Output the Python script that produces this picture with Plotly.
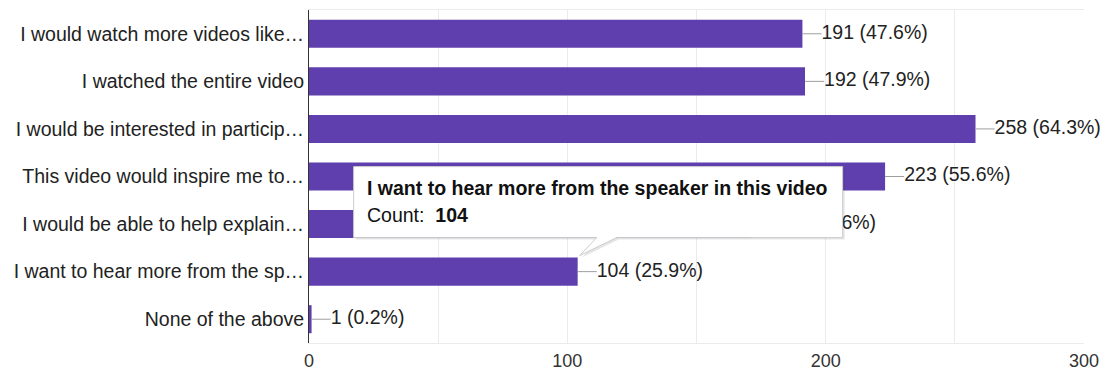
import plotly.graph_objects as go

# Survey responses (multiple choice, checkbox question)
categories = [
    "I would watch more videos like…",
    "I watched the entire video",
    "I would be interested in particip…",
    "This video would inspire me to…",
    "I would be able to help explain…",
    "I want to hear more from the sp…",
    "None of the above",
]
counts = [191, 192, 258, 223, 171, 104, 1]
percents = ["47.6%", "47.9%", "64.3%", "55.6%", "42.6%", "25.9%", "0.2%"]
x_ticks = [0, 100, 200, 300]

# hovered item shown in the tooltip
tooltip_index = 5
tooltip_title = "I want to hear more from the speaker in this video"

BAR_COLOR = "#5f3fae"
TEXT_COLOR = "#222222"
GRID_COLOR = "#ebebeb"
FONT = "Liberation Sans, Arial, sans-serif"
FONT_SIZE = 19.5
BAR_WIDTH = 0.59
LEADER = 7.4  # connector length, in axis units

fig = go.Figure()

fig.add_trace(go.Bar(
    x=counts, y=categories, orientation="h",
    width=BAR_WIDTH, marker=dict(color=BAR_COLOR, line=dict(width=0)),
    hoverinfo="skip",
))

# short grey connectors from the end of each bar to its value label
lx, ly = [], []
for c, v in zip(categories, counts):
    lx += [v, v + LEADER, None]
    ly += [c, c, None]
fig.add_trace(go.Scatter(
    x=lx, y=ly, mode="lines", line=dict(color="#9e9e9e", width=1),
    hoverinfo="skip", cliponaxis=False,
))

fig.add_trace(go.Scatter(
    x=[v + LEADER for v in counts], y=categories, mode="text",
    text=[f"{v} ({p})" for v, p in zip(counts, percents)],
    textposition="middle right",
    textfont=dict(family=FONT, size=FONT_SIZE, color=TEXT_COLOR),
    hoverinfo="skip", cliponaxis=False,
))

# tooltip box with a pointer to the top-right corner of the hovered bar
box_l, box_r, box_t, box_b = -224, 265, 91, 20
tail_a, tail_b, tip = 19, 39, 2
box_path = (f"M {box_l},{box_t} L {box_r},{box_t} L {box_r},{box_b} "
            f"L {tail_b},{box_b} L {tip},{tip} L {tail_a},{box_b} "
            f"L {box_l},{box_b} Z")
shadow_path = (f"M {box_l + 2},{box_t - 2} L {box_r + 2},{box_t - 2} "
               f"L {box_r + 2},{box_b - 2} L {tail_b + 2},{box_b - 2} "
               f"L {tip + 2},{tip - 2} L {tail_a + 2},{box_b - 2} "
               f"L {box_l + 2},{box_b - 2} Z")
anchor_x = counts[tooltip_index]
anchor_y = tooltip_index - BAR_WIDTH / 2

for path, fill, line in [
    (shadow_path, "rgba(0,0,0,0.10)", dict(width=0)),
    (box_path, "white", dict(color="#cccccc", width=1)),
]:
    fig.add_shape(
        type="path", path=path, xref="x", yref="y",
        xsizemode="pixel", ysizemode="pixel",
        xanchor=anchor_x, yanchor=anchor_y,
        fillcolor=fill, line=line, layer="above",
    )

fig.add_annotation(
    x=anchor_x, y=anchor_y, xref="x", yref="y",
    text=f"<b>{tooltip_title}</b>", showarrow=False,
    xanchor="left", yanchor="middle", xshift=-213, yshift=70,
    font=dict(family=FONT, size=FONT_SIZE, color="#111111"),
)
fig.add_annotation(
    x=anchor_x, y=anchor_y, xref="x", yref="y",
    text=f"Count:  <b>{counts[tooltip_index]}</b>", showarrow=False,
    xanchor="left", yanchor="middle", xshift=-213, yshift=43,
    font=dict(family=FONT, size=FONT_SIZE, color="#111111"),
)

fig.update_layout(
    width=1106, height=373,
    margin=dict(l=309, r=22, t=10, b=30, autoexpand=False),
    paper_bgcolor="white", plot_bgcolor="white",
    showlegend=False,
    font=dict(family=FONT, size=FONT_SIZE, color=TEXT_COLOR),
)
fig.update_xaxes(
    range=[0, 300], tickvals=x_ticks, ticktext=[str(t) for t in x_ticks],
    showgrid=True, gridcolor=GRID_COLOR, gridwidth=1,
    minor=dict(dtick=50, showgrid=True, gridcolor=GRID_COLOR, gridwidth=1),
    zeroline=False, showline=True, linecolor=GRID_COLOR, mirror=True,
    ticks="", ticklabelstandoff=1, automargin=False,
    tickfont=dict(family=FONT, size=18, color="#333333"),
)
fig.update_yaxes(
    type="category", categoryorder="array", categoryarray=categories,
    range=[len(categories) - 0.5, -0.5],
    showgrid=False, zeroline=False,
    showline=True, linecolor="#333333", linewidth=1,
    ticks="", ticklabelstandoff=0, automargin=False,
    tickfont=dict(family=FONT, size=FONT_SIZE, color=TEXT_COLOR),
)

fig.write_html("out.html")
